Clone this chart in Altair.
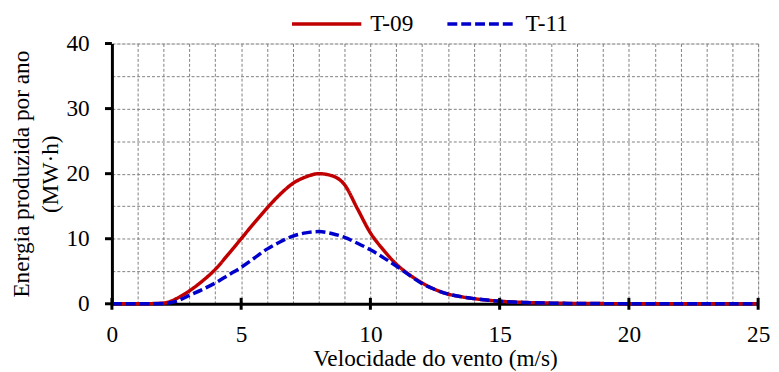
import altair as alt
import pandas as pd

speed = [0, 1, 2, 2.5, 3, 3.5, 4, 4.5, 5, 5.5, 6, 6.5, 7, 7.5, 8, 8.5, 9, 9.5, 10, 10.5,
         11, 11.5, 12, 12.5, 13, 13.5, 14, 15, 16, 17, 18, 19, 20, 21, 22, 23, 24, 25]
t09 = [0, 0, 0.1, 0.8, 2.0, 3.5, 5.3, 7.6, 10.0, 12.4, 14.7, 16.8, 18.5, 19.5, 20.0, 19.7, 18.3, 14.6, 10.9, 8.3,
       6.1, 4.5, 3.2, 2.2, 1.5, 1.1, 0.8, 0.4, 0.2, 0.1, 0.05, 0.03, 0.02, 0, 0, 0, 0, 0]
t11 = [0, 0, 0.05, 0.4, 1.3, 2.2, 3.2, 4.4, 5.6, 7.0, 8.4, 9.5, 10.4, 10.9, 11.1, 10.8, 10.2, 9.3, 8.3, 7.1,
       5.8, 4.4, 3.1, 2.2, 1.5, 1.1, 0.8, 0.4, 0.2, 0.1, 0.05, 0.03, 0.02, 0, 0, 0, 0, 0]
series = ["T-09", "T-11"]
x_ticks = [0, 5, 10, 15, 20, 25]
y_ticks = [0, 10, 20, 30, 40]

rows = []
for name, vals in zip(series, [t09, t11]):
    for s, v in zip(speed, vals):
        rows.append({"v": s, "e": v, "s": name})
df = pd.DataFrame(rows)

FONT = "Liberation Serif"
FS = 23.5
W, H = 653, 263

xscale = alt.Scale(domain=[0, 25], nice=False, zero=False)
yscale = alt.Scale(domain=[0, 40], nice=False)

common = dict(tickSize=0, gridDash=[3, 2], gridColor="#808080", gridWidth=1, gridOpacity=1,
              domainColor="black", domainWidth=3, labelFont=FONT, labelFontSize=FS,
              labelColor="black", titleFont=FONT, titleFontSize=FS, titleFontWeight="normal",
              titleColor="black", labelFlush=False, labelOverlap=False)
xaxis = alt.Axis(values=list(range(0, 26)), labelExpr="datum.value % 5 === 0 ? datum.label : ''",
                 title="Velocidade do vento (m/s)", labelPadding=19, titlePadding=1, **common)
yaxis = alt.Axis(values=list(range(0, 41, 5)), labelExpr="datum.value % 10 === 0 ? datum.label : ''",
                 title=["Energia produzida por ano", "(MW·h)"], labelPadding=23, titlePadding=3,
                 titleLineHeight=30, **common)

base = alt.Chart(df)
lines = base.mark_line(strokeWidth=3.5, interpolate="monotone").encode(
    x=alt.X("v:Q", scale=xscale, axis=xaxis),
    y=alt.Y("e:Q", scale=yscale, axis=yaxis),
    color=alt.Color("s:N", scale=alt.Scale(domain=series, range=["#c00000", "#0000cc"]),
                    legend=alt.Legend(title=None, orient="none", legendX=180, legendY=-57,
                                      direction="horizontal", symbolType="stroke", symbolSize=4900,
                                      symbolStrokeWidth=3.5, labelFont=FONT, labelFontSize=FS,
                                      labelColor="black", labelOffset=7, columnPadding=27)),
    strokeDash=alt.StrokeDash("s:N", scale=alt.Scale(domain=series, range=[[1, 0], [10, 4]]),
                              legend=None),
    order=alt.Order("s:N"),
)

xt = alt.Chart(pd.DataFrame({"t": x_ticks})).mark_rule(color="black", strokeWidth=3).encode(
    x=alt.X("t:Q", scale=xscale, axis=xaxis), y=alt.value(H - 6), y2=alt.value(H + 6))
yt = alt.Chart(pd.DataFrame({"t": y_ticks})).mark_rule(color="black", strokeWidth=3).encode(
    y=alt.Y("t:Q", scale=yscale, axis=yaxis), x=alt.value(-7), x2=alt.value(0))

chart = alt.layer(lines, xt, yt).properties(
    width=W, height=H,
    autosize=alt.AutoSizeParams(type="none"),
    padding={"left": 105, "top": 34, "right": 13, "bottom": 66},
).configure_view(stroke=None).configure(background="white")

chart.save("out.html", embed_options={"renderer": "svg", "actions": False})
